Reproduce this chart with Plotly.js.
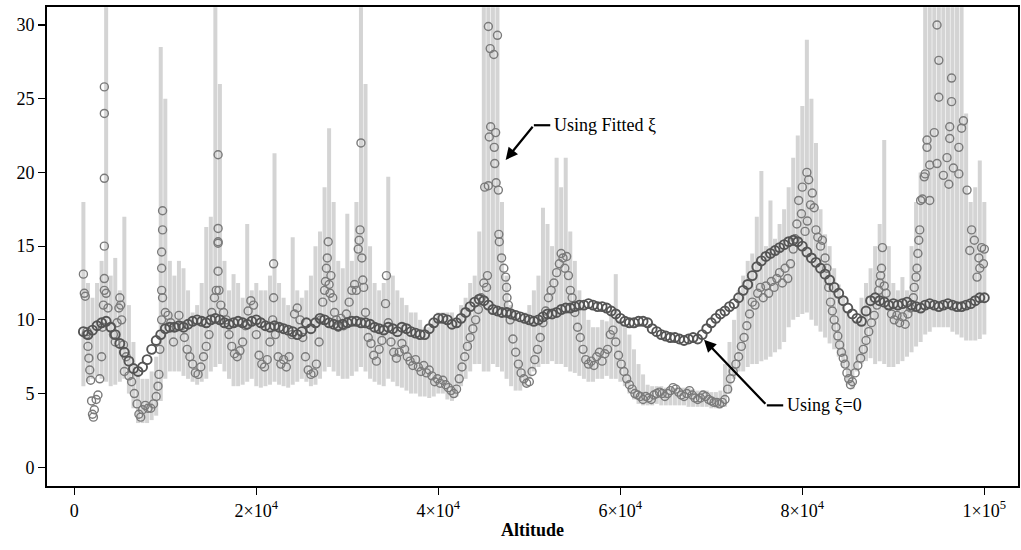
<!DOCTYPE html>
<html>
<head>
<meta charset="utf-8">
<script src="https://cdn.plot.ly/plotly-3.0.1.min.js"></script>
<style>
html,body{margin:0;padding:0;background:#fff;}
#chart{width:1021px;height:550px;}
</style>
</head>
<body>
<div id="chart"></div>
<script>
// ---------- shared altitude grid (xi = 0 series and fitted-xi uncertainty band) ----------
const alt0 = [
 1000,1500,2000,2500,3000,3500,4000,4500,5000,5500,
 6000,6500,7000,7500,8000,8500,9000,9500,10000,10500,
 11000,11500,12000,12500,13000,13500,14000,14500,15000,15500,
 16000,16500,17000,17500,18000,18500,19000,19500,20000,20500,
 21000,21500,22000,22500,23000,23500,24000,24500,25000,25500,
 26000,26500,27000,27500,28000,28500,29000,29500,30000,30500,
 31000,31500,32000,32500,33000,33500,34000,34500,35000,35500,
 36000,36500,37000,37500,38000,38500,39000,39500,40000,40500,
 41000,41500,42000,42500,43000,43500,44000,44500,45000,45500,
 46000,46500,47000,47500,48000,48500,49000,49500,50000,50500,
 51000,51500,52000,52500,53000,53500,54000,54500,55000,55500,
 56000,56500,57000,57500,58000,58500,59000,59500,60000,60500,
 61000,61500,62000,62500,63000,63500,64000,64500,65000,65500,
 66000,66500,67000,67500,68000,68500,69000,69500,70000,70500,
 71000,71500,72000,72500,73000,73500,74000,74500,75000,75500,
 76000,76500,77000,77500,78000,78500,79000,79500,80000,80500,
 81000,81500,82000,82500,83000,83500,84000,84500,85000,85500,
 86000,86500,87000,87500,88000,88500,89000,89500,90000,90500,
 91000,91500,92000,92500,93000,93500,94000,94500,95000,95500,
 96000,96500,97000,97500,98000,98500,99000,99500,100000];

// "Using xi=0" estimates
const xiZero = [
 9.2,9.0,9.3,9.6,9.8,9.9,9.5,9.0,8.4,7.8,
 7.2,6.7,6.5,6.8,7.3,8.0,8.6,9.0,9.4,9.5,
 9.5,9.6,9.5,9.7,9.9,10.0,9.9,9.8,10.0,10.1,
 10.0,9.8,9.7,9.8,9.9,9.8,9.7,9.9,10.0,9.8,
 9.6,9.5,9.6,9.5,9.4,9.3,9.2,9.0,9.2,9.8,
 9.4,9.8,10.1,10.0,9.8,9.7,9.6,9.7,9.8,9.9,
 9.9,9.8,9.8,9.7,9.5,9.4,9.3,9.5,9.4,9.2,
 9.5,9.4,9.2,9.1,9.0,9.0,9.4,9.8,10.1,10.1,
 10.0,9.7,9.8,10.1,10.5,10.9,11.2,11.4,11.3,11.0,
 10.7,10.6,10.5,10.5,10.4,10.3,10.2,10.1,10.0,9.9,
 10.0,10.2,10.4,10.4,10.5,10.7,10.8,10.8,10.9,11.0,
 11.0,11.1,11.0,10.9,10.9,10.8,10.6,10.4,10.1,9.9,
 9.8,9.8,9.9,9.9,9.8,9.4,9.2,9.0,8.9,8.8,
 8.8,8.7,8.6,8.7,8.8,8.7,9.0,9.4,9.8,10.1,
 10.4,10.6,10.9,11.1,11.5,12.0,12.4,13.0,13.6,14.0,
 14.3,14.5,14.7,14.9,15.1,15.3,15.4,15.3,15.0,14.6,
 14.2,13.9,13.5,13.1,12.7,12.2,11.8,11.3,10.8,10.4,
 10.1,9.9,10.6,11.3,11.5,11.3,11.2,11.0,11.1,11.0,
 11.1,11.2,11.0,10.9,10.8,11.0,11.1,11.0,10.9,11.0,
 11.1,11.0,10.9,10.9,11.0,11.1,11.3,11.5,11.5];

// lower / upper limits of the fitted-xi uncertainty band
const bandLow = [
 5.5,5.8,6.0,6.2,6.0,5.8,5.5,5.6,5.8,6.0,
 5.0,4.0,3.0,3.0,3.0,3.2,3.5,4.5,6.0,6.5,
 6.5,6.5,6.2,6.0,5.8,5.6,5.8,6.0,6.5,6.8,
 7.0,6.5,6.0,5.5,5.5,5.6,5.8,6.0,5.5,5.4,
 5.5,5.6,5.8,5.6,5.5,5.4,5.6,5.8,6.0,5.8,
 5.5,5.6,6.0,6.5,6.8,6.5,6.2,6.0,6.0,6.2,
 6.5,6.8,6.5,6.0,5.8,5.6,5.5,6.0,5.8,5.5,
 5.4,5.2,5.0,5.0,4.8,4.8,4.7,4.8,5.0,5.0,
 4.6,4.5,4.8,5.5,6.0,6.5,7.0,7.0,6.5,6.5,
 7.0,6.8,6.5,6.0,5.5,5.2,5.2,5.5,6.0,6.5,
 6.8,7.0,7.0,7.2,7.0,7.0,6.8,6.5,6.4,6.2,
 6.0,5.8,5.8,6.0,6.0,6.2,6.0,6.0,5.8,5.5,
 5.0,4.6,4.3,4.2,4.2,4.2,4.3,4.2,4.2,4.2,
 4.2,4.2,4.2,4.1,4.1,4.1,4.1,4.1,4.0,4.0,
 4.0,4.1,5.0,6.0,6.5,6.5,6.8,7.0,7.0,7.2,
 7.3,7.5,7.8,8.0,8.5,9.5,10.0,10.2,10.4,10.5,
 10.0,9.6,9.2,8.8,8.4,8.0,7.5,6.8,5.6,5.3,
 6.5,7.0,7.2,7.4,7.0,7.2,7.0,6.8,6.8,7.0,
 7.2,7.5,7.8,8.2,8.5,9.0,9.2,9.5,9.5,9.5,
 9.5,9.2,9.0,8.8,8.6,8.6,8.6,8.7,9.0];

const bandHigh = [
 18.0,12.5,11.5,12.5,14.0,31.2,13.0,14.2,12.0,17.0,
 11.0,8.5,6.5,6.0,6.0,6.5,7.5,28.5,25.0,14.0,
 13.0,14.0,13.5,12.0,10.5,11.0,12.5,16.3,17.0,31.2,
 26.0,14.0,12.0,13.1,12.5,11.5,16.5,12.0,12.5,12.0,
 12.0,13.0,21.3,12.5,11.5,11.0,15.6,12.0,11.5,12.0,
 13.0,15.0,16.0,19.0,23.0,18.0,14.0,13.5,17.2,14.0,
 18.0,31.2,26.0,15.0,12.5,12.0,12.5,19.7,13.0,12.0,
 11.5,11.0,10.5,10.5,10.0,9.5,9.5,10.0,10.5,10.5,
 10.5,10.5,10.0,11.0,11.5,12.5,13.0,16.0,31.2,31.2,
 31.2,31.2,18.0,13.0,11.0,10.5,10.0,10.5,11.0,12.0,
 13.0,17.6,16.5,15.0,21.0,19.0,21.0,16.0,14.0,12.0,
 11.0,10.0,9.5,9.5,10.0,9.9,10.5,13.1,10.0,9.5,
 9.0,8.0,7.0,6.3,5.6,5.5,5.5,5.5,5.4,5.4,
 5.4,5.4,5.4,5.4,5.3,5.2,5.2,5.2,5.1,5.1,
 5.2,7.0,8.5,10.0,12.0,13.0,14.0,14.5,17.0,20.1,
 15.0,18.1,15.5,16.5,17.5,19.0,21.0,22.5,24.5,29.0,
 25.0,22.0,17.5,15.8,15.0,13.5,12.4,11.5,10.5,10.0,
 10.0,11.5,12.5,13.5,15.0,16.5,22.2,15.0,12.5,12.0,
 12.9,12.0,15.0,18.0,20.0,31.2,31.2,31.2,31.2,31.2,
 31.2,31.2,31.2,31.2,24.0,18.0,19.0,20.8,18.0];

// ---------- "Using Fitted xi" estimates ----------
const altFit = [
 1000,1100,1200,1300,1400,1500,1600,1700,1800,1900,2000,2100,
 2200,2400,2600,2800,3000,3100,3200,3300,3300,3300,3300,3300,
 3300,3500,3700,4000,4300,4500,4700,4900,5000,5100,5200,5400,
 5500,5700,6000,6300,6600,6900,7100,7300,7500,7800,8100,8400,
 8700,9000,9200,9300,9400,9600,9600,9600,9600,9700,9700,9700,
 10000,10300,10600,10900,11200,11500,11800,12100,12400,12700,13000,13300,
 13600,13900,14200,14500,14800,15100,15400,15600,15800,15800,15800,15800,
 15800,15900,16100,16400,16700,17000,17300,17600,17900,18200,18500,18800,
 19100,19400,19700,20000,20300,20600,20900,21200,21500,21800,21900,21900,
 22100,22400,22700,23000,23300,23600,23900,24200,24500,24800,25100,25400,
 25700,26000,26300,26600,26900,27100,27300,27500,27600,27700,27800,27900,
 28000,28100,28200,28400,28600,28800,29000,29300,29600,29900,30200,30500,
 30800,31000,31200,31300,31400,31500,31600,31700,31800,32000,32300,32600,
 32900,33200,33500,33800,34000,34200,34300,34500,34800,35100,35400,35700,
 36000,36300,36600,36900,37200,37500,37800,38100,38400,38700,39000,39300,
 39600,39900,40200,40500,40800,41100,41400,41700,42000,42300,42600,42900,
 43200,43500,43800,44100,44400,44700,45000,45100,45300,45400,45500,45500,
 45600,45700,45750,46100,46150,46200,46300,46350,46500,46600,46650,46700,
 46950,47200,47400,47500,47550,47700,47900,48200,48500,48800,49100,49400,
 49700,50000,50300,50600,50900,51200,51500,51800,52100,52400,52700,53000,
 53300,53500,53700,53900,54100,54300,54500,54700,55000,55300,55600,55900,
 56200,56500,56800,57100,57400,57700,58000,58300,58600,58900,59200,59500,
 59800,60100,60400,60700,61000,61300,61600,61900,62200,62500,62800,63100,
 63400,63700,64000,64300,64600,64900,65200,65500,65800,66100,66400,66700,
 67000,67300,67600,67900,68200,68500,68800,69100,69400,69700,70000,70300,
 70600,70900,71200,71500,71800,72100,72400,72700,73000,73300,73600,73900,
 74200,74500,74800,75100,75400,75700,76000,76300,76600,76900,77200,77500,
 77800,78100,78400,78700,79000,79200,79400,79600,79900,80000,80300,80500,
 80550,80700,80900,81100,81300,81500,81700,82000,82200,82500,82700,82900,
 83100,83300,83500,83700,83900,84100,84300,84500,84700,84900,85100,85300,
 85500,85800,86100,86400,86700,87000,87300,87600,87900,88200,88400,88500,
 88600,88700,88800,89000,89200,89500,89800,90100,90400,90700,91000,91300,
 91600,91900,92200,92300,92500,92600,92700,92800,92900,93000,93200,93400,
 93500,93700,93700,94000,94000,94500,94800,94800,95000,95000,95500,95900,
 96100,96200,96200,96400,96400,96600,97200,97200,97500,97700,98100,98400,
 98600,98900,99200,99400,99500,99700,99900,100000];

const fitVal = [
 13.1,11.8,11.6,9.0,9.2,8.2,7.4,6.6,5.9,4.5,3.6,3.4,
 3.9,4.6,4.9,6.0,7.5,9.5,11.0,12.0,12.8,15.0,19.6,24.0,
 25.8,11.8,10.8,9.5,9.0,8.5,9.8,10.8,11.5,11.0,10.0,8.3,
 6.5,7.5,6.2,5.8,5.0,4.3,3.6,3.4,3.9,4.2,4.0,4.0,
 4.3,4.8,5.5,6.3,8.0,10.0,12.0,13.5,14.6,16.1,17.4,11.5,
 10.5,10.3,9.8,8.5,9.5,10.3,9.6,8.8,8.0,7.5,7.0,6.4,
 6.3,6.8,7.5,8.2,9.0,10.5,11.5,12.0,13.3,15.2,16.2,21.2,
 15.3,12.0,11.0,10.5,10.0,9.0,8.2,7.7,7.5,7.9,8.5,9.6,
 10.6,11.3,11.0,9.0,7.6,7.0,6.8,7.3,8.5,10.0,11.5,13.8,
 9.0,7.5,7.0,7.3,6.8,7.5,9.0,10.4,10.8,10.0,8.8,7.5,
 6.6,6.3,6.4,7.0,8.5,10.0,11.2,12.0,12.6,13.5,14.2,15.3,
 12.4,11.8,13.0,11.5,10.5,10.0,9.5,10.1,9.6,10.4,11.2,12.0,
 12.4,12.0,14.8,15.4,16.1,22.0,14.2,12.7,12.2,10.5,8.8,8.4,
 7.6,7.2,8.0,8.6,9.3,11.1,13.0,9.8,8.5,7.8,7.4,7.8,
 8.4,8.0,7.5,7.2,6.9,7.3,6.8,6.5,6.9,6.4,6.6,6.2,
 5.8,6.0,5.7,5.9,5.6,5.4,5.2,5.0,5.3,6.0,6.8,7.5,
 8.2,8.8,9.4,10.0,10.7,11.5,12.5,19.0,12.2,13.0,29.9,19.1,
 22.4,28.4,23.1,28.0,21.7,20.6,22.7,19.3,29.3,18.8,15.8,15.3,
 14.2,13.5,12.9,12.2,11.5,11.0,10.0,8.7,7.8,7.0,6.4,6.0,
 5.7,5.8,6.5,7.3,8.0,8.8,9.8,10.6,11.5,12.0,12.5,13.2,
 13.8,14.5,14.2,13.5,14.3,13.0,12.0,11.5,10.5,9.5,8.8,8.0,
 7.3,7.0,7.2,6.9,7.5,7.8,7.2,7.7,8.0,9.0,9.3,8.5,
 7.6,7.0,6.5,6.0,5.6,5.3,5.0,4.9,4.8,4.6,4.8,4.7,
 4.6,4.9,5.0,5.1,5.0,4.8,5.0,5.2,5.4,5.3,5.1,4.9,
 4.8,5.0,5.2,4.9,4.7,4.6,4.7,4.9,4.8,4.6,4.5,4.4,
 4.4,4.3,4.4,4.6,5.3,6.0,6.5,7.0,7.5,8.2,8.8,9.6,
 10.4,11.2,11.0,11.8,12.2,11.5,12.3,11.8,12.6,12.2,12.8,13.2,
 12.5,13.5,12.8,13.8,14.8,15.5,16.5,18.1,17.2,19.0,16.0,20.0,
 16.7,19.5,17.8,18.6,17.6,16.1,15.6,15.0,15.4,14.2,13.5,12.2,
 11.2,10.6,10.0,9.5,8.9,8.3,7.8,7.4,7.0,6.4,6.0,5.6,
 5.8,6.4,6.9,7.4,8.0,8.6,9.2,9.8,10.3,11.0,12.0,12.5,
 13.0,13.5,14.9,12.3,11.8,11.0,10.4,10.0,10.3,9.8,10.2,9.7,
 10.4,10.8,11.5,12.2,12.9,13.5,14.5,15.4,16.1,18.1,18.2,19.7,
 19.9,22.2,21.7,20.5,18.1,22.7,30.0,20.6,27.6,25.1,19.8,21.0,
 19.2,23.1,22.3,26.4,24.8,20.3,21.7,19.9,23.0,23.5,18.8,14.7,
 16.1,15.4,12.9,14.2,13.5,14.9,13.8,14.8];

// ---------- axis ticks ----------
const xTickVals = [0, 20000, 40000, 60000, 80000, 100000];
const xTickText = ['0', '2×10<sup>4</sup>', '4×10<sup>4</sup>', '6×10<sup>4</sup>', '8×10<sup>4</sup>', '1×10<sup>5</sup>'];
const yTickVals = [0, 5, 10, 15, 20, 25, 30];

// band as error bars from the lower limit up to the upper limit
const bandSpan = bandHigh.map((h, i) => Math.max(h - bandLow[i], 0));
const bandZero = bandLow.map(() => 0);

const serif = 'Liberation Serif, Times New Roman, serif';

const traces = [
  {
    x: alt0, y: bandLow, type: 'scatter', mode: 'markers',
    marker: {size: 1, color: 'rgba(0,0,0,0)'},
    error_y: {type: 'data', symmetric: false, array: bandSpan, arrayminus: bandZero,
              color: '#d4d4d4', thickness: 4, width: 0},
    hoverinfo: 'skip', showlegend: false
  },
  {
    x: altFit, y: fitVal, type: 'scatter', mode: 'markers', name: 'Using Fitted ξ',
    marker: {symbol: 'circle-open', size: 8, color: '#7a7a7a', line: {width: 1.4, color: '#7a7a7a'}},
    showlegend: false
  },
  {
    x: alt0, y: xiZero, type: 'scatter', mode: 'markers', name: 'Using ξ=0',
    marker: {symbol: 'circle-open', size: 9, color: '#545454', line: {width: 1.9, color: '#545454'}},
    showlegend: false
  }
];

const layout = {
  width: 1021, height: 550,
  margin: {l: 47, r: 3, t: 7, b: 64},
  paper_bgcolor: '#fff', plot_bgcolor: '#fff',
  font: {family: serif, size: 18, color: '#000'},
  xaxis: {
    range: [-3000, 103700], tickvals: xTickVals, ticktext: xTickText,
    ticks: 'outside', ticklen: 7, tickwidth: 1.2, tickcolor: '#000',
    showgrid: false, zeroline: false,
    showline: true, linewidth: 2, linecolor: '#000', mirror: true,
    tickfont: {family: serif, size: 18, color: '#000'},
    title: {text: '<b>Altitude</b>', font: {family: serif, size: 18, color: '#000'}, standoff: 4}
  },
  yaxis: {
    range: [-1.27, 31.22], tickvals: yTickVals,
    ticks: 'outside', ticklen: 7, tickwidth: 1.2, tickcolor: '#000',
    showgrid: false, zeroline: false,
    showline: true, linewidth: 2, linecolor: '#000', mirror: true,
    tickfont: {family: serif, size: 18, color: '#000'}
  },
  shapes: [
    {type: 'line', xref: 'x', yref: 'y', x0: 50500, y0: 23.2, x1: 52300, y1: 23.2,
     line: {color: '#000', width: 2.2}},
    {type: 'line', xref: 'x', yref: 'y', x0: 76100, y0: 4.2, x1: 77900, y1: 4.2,
     line: {color: '#000', width: 2.2}}
  ],
  annotations: [
    {x: 52500, y: 23.2, xref: 'x', yref: 'y', text: 'Using Fitted ξ', showarrow: false,
     xanchor: 'left', yanchor: 'middle', font: {family: serif, size: 18, color: '#000'}},
    {x: 47400, y: 20.85, xref: 'x', yref: 'y', ax: 50500, ay: 23.2, axref: 'x', ayref: 'y',
     text: '', showarrow: true, arrowhead: 2, arrowsize: 1.1, arrowwidth: 2.2, arrowcolor: '#000'},
    {x: 78100, y: 4.2, xref: 'x', yref: 'y', text: 'Using ξ=0', showarrow: false,
     xanchor: 'left', yanchor: 'middle', font: {family: serif, size: 18, color: '#000'}},
    {x: 69200, y: 8.65, xref: 'x', yref: 'y', ax: 76100, ay: 4.2, axref: 'x', ayref: 'y',
     text: '', showarrow: true, arrowhead: 2, arrowsize: 1.1, arrowwidth: 2.2, arrowcolor: '#000'}
  ]
};

Plotly.newPlot('chart', traces, layout, {displayModeBar: false, staticPlot: true});
</script>
</body>
</html>
